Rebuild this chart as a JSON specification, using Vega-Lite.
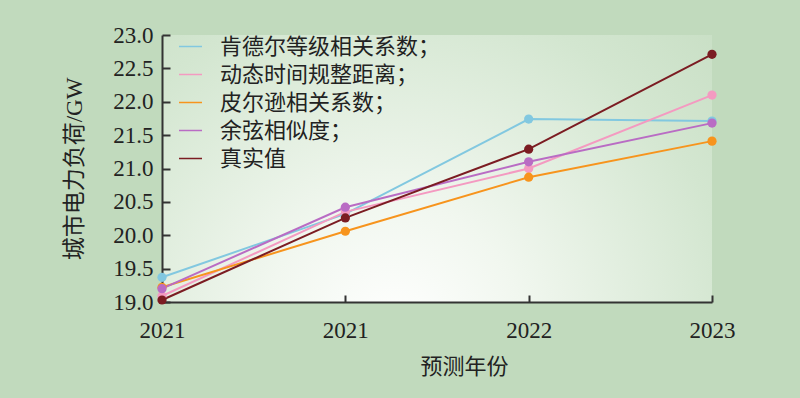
{
  "$schema": "https://vega.github.io/schema/vega-lite/v6.json",
  "width": 550,
  "height": 267,
  "autosize": {"type": "none"},
  "padding": {"left": 162, "top": 35, "right": 88, "bottom": 96},
  "background": "#c1dabd",
  "config": {
    "font": "Liberation Serif, Noto Sans CJK SC",
    "view": {
      "stroke": null,
      "fill": {
        "gradient": "radial",
        "x1": 0.42, "y1": 0.8, "r1": 0,
        "x2": 0.42, "y2": 0.8, "r2": 0.95,
        "stops": [
          {"offset": 0, "color": "#ffffff"},
          {"offset": 0.25, "color": "#f1f7ef"},
          {"offset": 0.65, "color": "#d3e6d0"},
          {"offset": 1, "color": "#c1dabd"}
        ]
      }
    }
  },
  "data": {
    "values": [
      {"series": "肯德尔等级相关系数", "step": 0, "value": 19.37},
      {"series": "肯德尔等级相关系数", "step": 1, "value": 20.32},
      {"series": "肯德尔等级相关系数", "step": 2, "value": 21.74},
      {"series": "肯德尔等级相关系数", "step": 3, "value": 21.71},
      {"series": "动态时间规整距离", "step": 0, "value": 19.09},
      {"series": "动态时间规整距离", "step": 1, "value": 20.35},
      {"series": "动态时间规整距离", "step": 2, "value": 21.0},
      {"series": "动态时间规整距离", "step": 3, "value": 22.1},
      {"series": "皮尔逊相关系数", "step": 0, "value": 19.22},
      {"series": "皮尔逊相关系数", "step": 1, "value": 20.06},
      {"series": "皮尔逊相关系数", "step": 2, "value": 20.87},
      {"series": "皮尔逊相关系数", "step": 3, "value": 21.41},
      {"series": "余弦相似度", "step": 0, "value": 19.2},
      {"series": "余弦相似度", "step": 1, "value": 20.42},
      {"series": "余弦相似度", "step": 2, "value": 21.1},
      {"series": "余弦相似度", "step": 3, "value": 21.68},
      {"series": "真实值", "step": 0, "value": 19.03},
      {"series": "真实值", "step": 1, "value": 20.26},
      {"series": "真实值", "step": 2, "value": 21.29},
      {"series": "真实值", "step": 3, "value": 22.71}
    ]
  },
  "mark": {"type": "line", "strokeWidth": 2, "point": {"filled": true, "size": 85, "opacity": 1}},
  "encoding": {
    "x": {
      "field": "step",
      "type": "ordinal",
      "scale": {"type": "point", "padding": 0},
      "axis": {
        "title": "预测年份",
        "labelExpr": "['2021','2021','2022','2023'][datum.value]",
        "labelAngle": 0,
        "labelFontSize": 23,
        "labelColor": "#222222",
        "labelPadding": 24,
        "tickSize": -7,
        "tickWidth": 2,
        "tickColor": "#333333",
        "domainColor": "#333333",
        "domainWidth": 2,
        "grid": false,
        "titleFontSize": 22,
        "titleFontWeight": "normal",
        "titleColor": "#222222",
        "titleX": 302,
        "titleY": 64,
        "titleBaseline": "middle"
      }
    },
    "y": {
      "field": "value",
      "type": "quantitative",
      "scale": {"domain": [19, 23], "zero": false, "nice": false},
      "axis": {
        "title": "城市电力负荷/GW",
        "values": [19, 19.5, 20, 20.5, 21, 21.5, 22, 22.5, 23],
        "format": ".1f",
        "labelFontSize": 23,
        "labelColor": "#222222",
        "labelPadding": 17,
        "tickSize": -8,
        "tickWidth": 2,
        "tickColor": "#333333",
        "domainColor": "#333333",
        "domainWidth": 2,
        "grid": false,
        "titleFontSize": 23,
        "titleFontWeight": "normal",
        "titleColor": "#222222",
        "titlePadding": 26
      }
    },
    "color": {
      "field": "series",
      "type": "nominal",
      "scale": {
        "domain": ["肯德尔等级相关系数", "动态时间规整距离", "皮尔逊相关系数", "余弦相似度", "真实值"],
        "range": ["#82c8e0", "#f49ac1", "#f7941d", "#b96cc4", "#7b1c22"]
      },
      "legend": {
        "title": null,
        "orient": "none",
        "legendX": 16,
        "legendY": -1,
        "symbolType": "stroke",
        "symbolSize": 529,
        "symbolStrokeWidth": 1.5,
        "labelFontSize": 22,
        "labelLimit": 0,
        "labelColor": "#222222",
        "labelOffset": 17,
        "rowPadding": 4,
        "labelExpr": "datum.label == '真实值' ? datum.label : datum.label + '；'"
      }
    }
  }
}
